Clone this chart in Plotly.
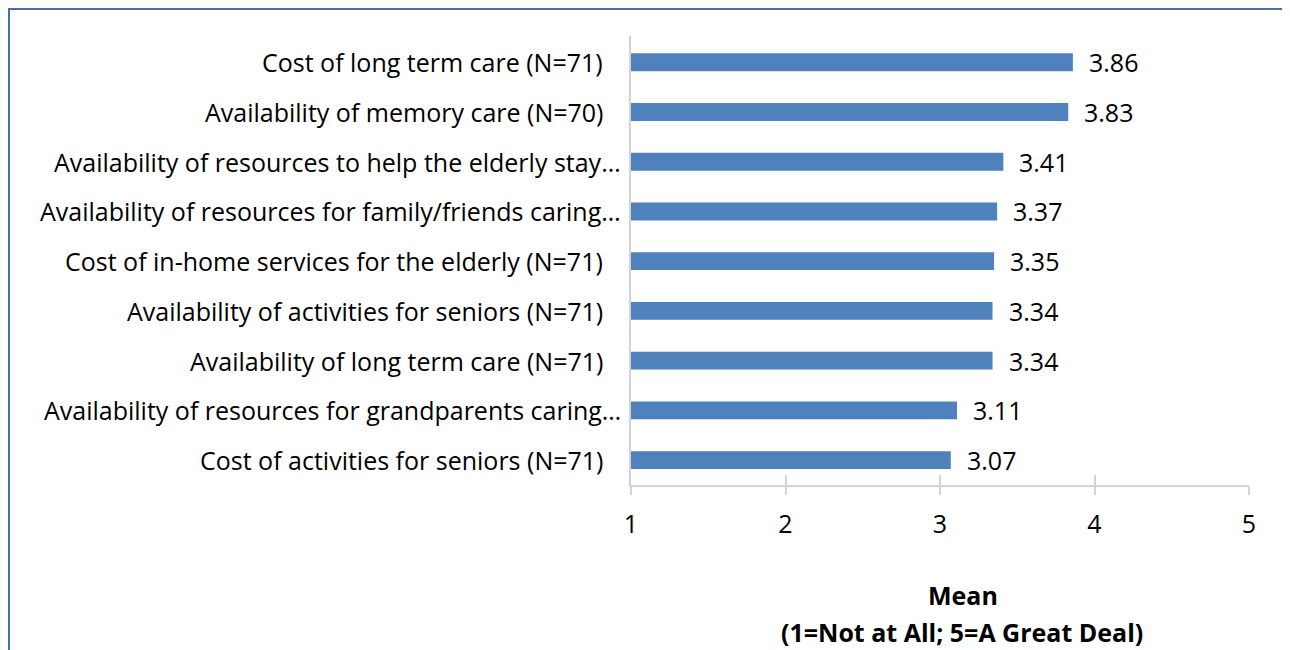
import plotly.graph_objects as go

categories = [
    "Cost of long term care (N=71)",
    "Availability of memory care (N=70)",
    "Availability of resources to help the elderly stay…",
    "Availability of resources for family/friends caring…",
    "Cost of in-home services for the elderly (N=71)",
    "Availability of activities for seniors (N=71)",
    "Availability of long term care (N=71)",
    "Availability of resources for grandparents caring…",
    "Cost of activities for seniors (N=71)",
]
means = [3.86, 3.83, 3.41, 3.37, 3.35, 3.34, 3.34, 3.11, 3.07]
x_ticks = [1, 2, 3, 4, 5]
axis_title_lines = ["Mean", "(1=Not at All; 5=A Great Deal)"]

FONT = "Open Sans"
FS = 25
BAR = "#4F81BD"
GRID = "#D4D4D4"
TXT = "#000000"
AXIS_MIN = 1

# figure placed at (8, 8) in the page by the body margin
W, H = 1282, 642
L, R, T, B = 623, 1241, 28, 477
PW, PH = R - L, B - T

fig = go.Figure()
fig.add_trace(go.Bar(
    y=categories,
    x=[m - AXIS_MIN for m in means],
    base=AXIS_MIN,
    orientation="h",
    marker=dict(color=BAR, line=dict(width=0)),
    hoverinfo="skip",
))
fig.add_trace(go.Scatter(x=[x_ticks[0], x_ticks[-1]], y=[categories[0], categories[0]],
                         xaxis="x2", mode="markers", marker=dict(opacity=0),
                         hoverinfo="skip", showlegend=False))

annotations = []
for c, m in zip(categories, means):
    annotations.append(dict(x=m, y=c, xref="x", yref="y", text=f"{m:.2f}",
                            showarrow=False, xanchor="left", xshift=14,
                            font=dict(family=FONT, size=FS, color=TXT)))
    truncated = c.endswith("…")
    annotations.append(dict(x=0, y=c, xref="paper", yref="y", text=c,
                            showarrow=False, xanchor="right",
                            xshift=-8 if truncated else -26,
                            font=dict(family=FONT, size=FS, color=TXT)))
annotations.append(dict(x=0.5, y=0, xref="paper", yref="paper", text="<b>" + axis_title_lines[0] + "</b>",
                        showarrow=False, xanchor="center", yanchor="middle", xshift=23, yshift=-110,
                        font=dict(family=FONT, size=FS, color=TXT)))
annotations.append(dict(x=0.5, y=0, xref="paper", yref="paper", text="<b>" + axis_title_lines[1] + "</b>",
                        showarrow=False, xanchor="center", yanchor="middle", xshift=22, yshift=-147,
                        font=dict(family=FONT, size=FS, color=TXT)))

fig.update_layout(
    width=W, height=H,
    margin=dict(l=L, r=W - R, t=T, b=H - B, pad=0),
    paper_bgcolor="white", plot_bgcolor="white",
    showlegend=False,
    bargap=0.64,
    font=dict(family=FONT, size=FS, color=TXT),
    xaxis=dict(range=[x_ticks[0], x_ticks[-1]], tickvals=x_ticks, ticktext=[str(t) for t in x_ticks],
               showgrid=False, zeroline=False, showline=True, linecolor=GRID, linewidth=2,
               ticks="outside", ticklen=8, tickwidth=2, tickcolor=GRID, ticklabelstandoff=8,
               tickfont=dict(family=FONT, size=FS, color=TXT)),
    xaxis2=dict(range=[x_ticks[0], x_ticks[-1]], tickvals=x_ticks, overlaying="x", anchor="y",
                side="bottom", showticklabels=False, showgrid=False, zeroline=False,
                ticks="inside", ticklen=10, tickwidth=2, tickcolor=GRID, showline=False),
    yaxis=dict(autorange="reversed", showticklabels=False, showgrid=False, zeroline=False,
               showline=True, linecolor=GRID, linewidth=2, ticks=""),
    annotations=annotations,
    shapes=[dict(type="rect", xref="paper", yref="paper",
                 x0=(1 - L) / PW, x1=(1277 - L) / PW,
                 y0=(B - 660) / PH, y1=(B - 1) / PH,
                 line=dict(color="#4A6EA6", width=2), fillcolor="rgba(0,0,0,0)", layer="below")],
)

fig.write_html("out.html")
